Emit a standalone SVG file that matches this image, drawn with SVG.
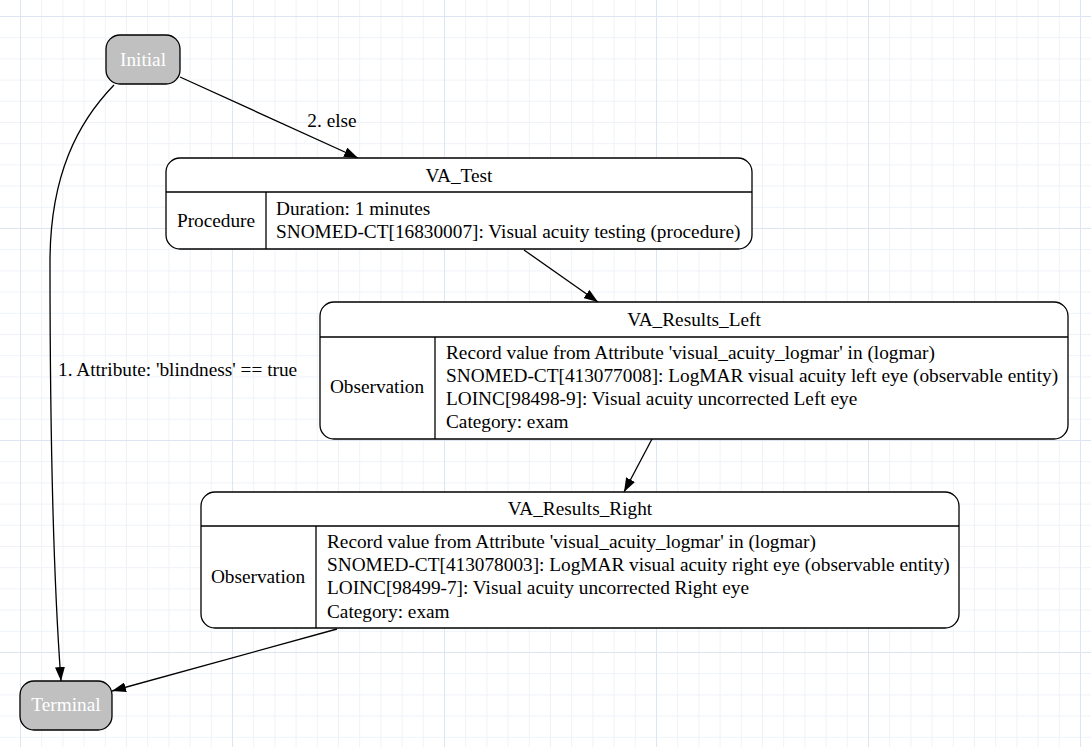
<svg xmlns="http://www.w3.org/2000/svg" width="1091" height="747" viewBox="0 0 1091 747">
<defs>
<style>
.t{font-family:"Liberation Serif","Times New Roman",serif;font-size:19.3px;fill:#000}
.c{text-anchor:middle}
.w{fill:#fff}
.box{fill:#fff;stroke:#000;stroke-width:1.3}
.term{fill:#c0c0c0;stroke:#000;stroke-width:1.3}
.ln{stroke:#000;stroke-width:1.3;fill:none}
.e{stroke:#000;stroke-width:1.3;fill:none;marker-end:url(#ah)}
</style>
<pattern id="minor" x="20" y="16" width="21.2" height="21.2" patternUnits="userSpaceOnUse">
<path d="M0,0 V21.2 M0,0 H21.2" stroke="#eef2f8" stroke-width="2" fill="none"/>
</pattern>
<pattern id="major" x="20" y="16" width="212" height="212" patternUnits="userSpaceOnUse">
<path d="M0,0 V212 M0,0 H212" stroke="#dce6f2" stroke-width="2" fill="none"/>
</pattern>
<marker id="ah" viewBox="0 0 14 10" refX="14" refY="5" markerWidth="14" markerHeight="10" markerUnits="userSpaceOnUse" orient="auto">
<path d="M0,0 L14,5 L0,10 z" fill="#000"/>
</marker>
</defs>
<rect width="1091" height="747" fill="#fff"/>
<rect width="1091" height="747" fill="url(#minor)"/>
<rect width="1091" height="747" fill="url(#major)"/>

<g id="connectors">
<path class="e" d="M180,77 L358,158"/>
<text class="t c" x="332" y="127">2. else</text>
<path class="e" d="M524,250 L598,302"/>
<path class="e" d="M652,439 L624,492"/>
<path class="e" d="M337,629 L112,691"/>
<path class="e" d="M114,85 C78,122 50,175 50,262 C50,420 52,560 61,681"/>
<text class="t" x="58" y="376">1. Attribute: 'blindness' == true</text>
</g>

<g id="Initial">
<rect class="term" x="106" y="35" width="74" height="49" rx="14"/>
<text class="t c w" x="143" y="66">Initial</text>
</g>

<g id="VA_Test">
<rect class="box" x="166" y="158" width="586" height="91" rx="14"/>
<path class="ln" d="M166,192 H752 M266,192 V249"/>
<text class="t c" x="459" y="182">VA_Test</text>
<text class="t c" x="216" y="227">Procedure</text>
<text class="t" x="276" y="215">Duration: 1 minutes</text>
<text class="t" x="276" y="238">SNOMED-CT[16830007]: Visual acuity testing (procedure)</text>
</g>

<g id="VA_Results_Left">
<rect class="box" x="320" y="302" width="748" height="137" rx="14"/>
<path class="ln" d="M320,337 H1068 M435,337 V439"/>
<text class="t c" x="694" y="326">VA_Results_Left</text>
<text class="t c" x="377" y="393">Observation</text>
<text class="t" x="446" y="359">Record value from Attribute 'visual_acuity_logmar' in (logmar)</text>
<text class="t" x="446" y="382">SNOMED-CT[413077008]: LogMAR visual acuity left eye (observable entity)</text>
<text class="t" x="446" y="405">LOINC[98498-9]: Visual acuity uncorrected Left eye</text>
<text class="t" x="446" y="428">Category: exam</text>
</g>

<g id="VA_Results_Right">
<rect class="box" x="201" y="492" width="758" height="136" rx="14"/>
<path class="ln" d="M201,526 H959 M316,526 V628"/>
<text class="t c" x="580" y="515">VA_Results_Right</text>
<text class="t c" x="258" y="583">Observation</text>
<text class="t" x="327" y="548">Record value from Attribute 'visual_acuity_logmar' in (logmar)</text>
<text class="t" x="327" y="571">SNOMED-CT[413078003]: LogMAR visual acuity right eye (observable entity)</text>
<text class="t" x="327" y="594">LOINC[98499-7]: Visual acuity uncorrected Right eye</text>
<text class="t" x="327" y="618">Category: exam</text>
</g>

<g id="Terminal">
<rect class="term" x="20" y="681" width="92" height="49" rx="14"/>
<text class="t c w" x="66" y="711">Terminal</text>
</g>
</svg>
